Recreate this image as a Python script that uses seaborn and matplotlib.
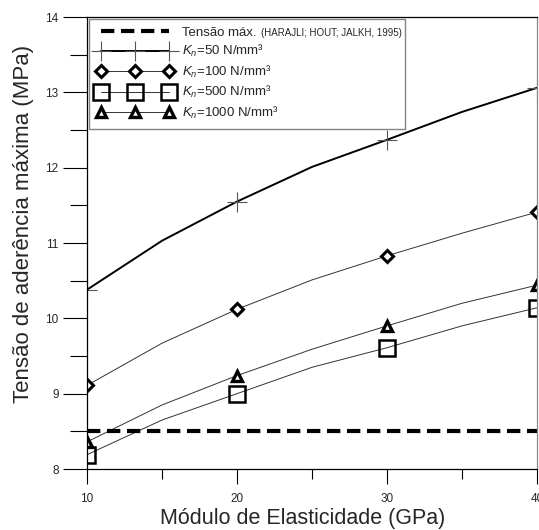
import matplotlib
matplotlib.use("Agg")
import matplotlib.pyplot as plt
import seaborn as sns
import pandas as pd
from matplotlib.ticker import MultipleLocator

E_gpa = [10, 15, 20, 25, 30, 35, 40]
k50 = [10.38, 11.03, 11.55, 12.01, 12.37, 12.74, 13.06]
k100 = [9.11, 9.67, 10.12, 10.51, 10.83, 11.13, 11.41]
k500 = [8.19, 8.65, 9.00, 9.35, 9.61, 9.90, 10.14]
k1000 = [8.36, 8.85, 9.24, 9.59, 9.90, 10.20, 10.44]
tensao_max = 8.5
x_limits = [10, 40]
y_limits = [8, 14]

sns.set_theme(style="ticks")
plt.rcParams['font.family'] = ['Liberation Sans', 'DejaVu Sans']
plt.rcParams['mathtext.fontset'] = 'custom'
plt.rcParams['mathtext.rm'] = 'Liberation Sans'
plt.rcParams['mathtext.it'] = 'Liberation Sans:italic'

fig = plt.figure(figsize=(5.39, 5.30), dpi=100)
ax = fig.add_axes([87/539, 1-469/530, (537-87)/539, (469-17)/530])

mk = [0, 2, 4, 6]
df = pd.DataFrame({"E": E_gpa, "k50": k50, "k100": k100, "k500": k500, "k1000": k1000})

sns.lineplot(data=df, x="E", y="k50", ax=ax, color="black", lw=1.4,
             marker="+", markersize=15, markeredgewidth=0.8, markeredgecolor="#555555",
             markevery=mk, label="$K_n$=50 N/mm³")
sns.lineplot(data=df, x="E", y="k100", ax=ax, color="#333333", lw=0.7,
             marker="D", markersize=6.5, markeredgewidth=2.2, markeredgecolor="black",
             markerfacecolor="white", markevery=mk, label="$K_n$=100 N/mm³")
sns.lineplot(data=df, x="E", y="k500", ax=ax, color="#333333", lw=0.7,
             marker="s", markersize=11, markeredgewidth=1.8, markeredgecolor="black",
             markerfacecolor="none", markevery=mk, label="$K_n$=500 N/mm³")
sns.lineplot(data=df, x="E", y="k1000", ax=ax, color="#333333", lw=0.7,
             marker="^", markersize=7, markeredgewidth=2.4, markeredgecolor="black",
             markerfacecolor="white", markevery=mk, label="$K_n$=1000 N/mm³")
ax.axhline(tensao_max, color="black", lw=3, dashes=(3.2, 1.6), label="Tensão máx.")

ax.set_xlim(x_limits)
ax.set_ylim(y_limits)
ax.xaxis.set_major_locator(MultipleLocator(10))
ax.xaxis.set_minor_locator(MultipleLocator(5))
ax.yaxis.set_major_locator(MultipleLocator(1))
ax.yaxis.set_minor_locator(MultipleLocator(0.5))
ax.tick_params(axis="y", which="major", length=17, width=0.8, labelsize=8.5, color="black")
ax.tick_params(axis="y", which="minor", length=12, width=0.8, color="black")
ax.tick_params(axis="x", which="major", length=11, width=0.8, labelsize=8.5, pad=6, color="black")
ax.tick_params(axis="x", which="minor", length=7, width=0.8, color="black")
for s in ax.spines.values():
    s.set_linewidth(0.9)
    s.set_color("black")
ax.spines["right"].set_color("#888888")

ax.set_xlabel("Módulo de Elasticidade (GPa)", fontsize=15.5)
ax.set_ylabel("Tensão de aderência máxima (MPa)", fontsize=16)
ax.xaxis.set_label_coords(0.48, -0.086)
ax.yaxis.set_label_coords(-0.118, 0.542)

handles, labels = ax.get_legend_handles_labels()
order = [labels.index("Tensão máx."), 0, 1, 2, 3]
leg = ax.legend([handles[i] for i in order], [labels[i] for i in order],
                loc="upper left", bbox_to_anchor=(0.004, 0.0, 0.703, 0.996), mode="expand",
                borderaxespad=0.0, numpoints=3,
                handlelength=5.8, handletextpad=0.7, fontsize=9.5, frameon=True,
                fancybox=False, edgecolor="#666666", borderpad=0.6, labelspacing=0.33)
leg.get_frame().set_linewidth(1.0)

fig.canvas.draw()
r = fig.canvas.get_renderer()
bb = leg.get_texts()[0].get_window_extent(r)
fig.text((bb.x1 + 4) / fig.bbox.width, (bb.y0 + bb.height * 0.5) / fig.bbox.height,
         "(HARAJLI; HOUT; JALKH, 1995)", fontsize=7, va="center", ha="left")

fig.savefig("out.png", dpi=100)
